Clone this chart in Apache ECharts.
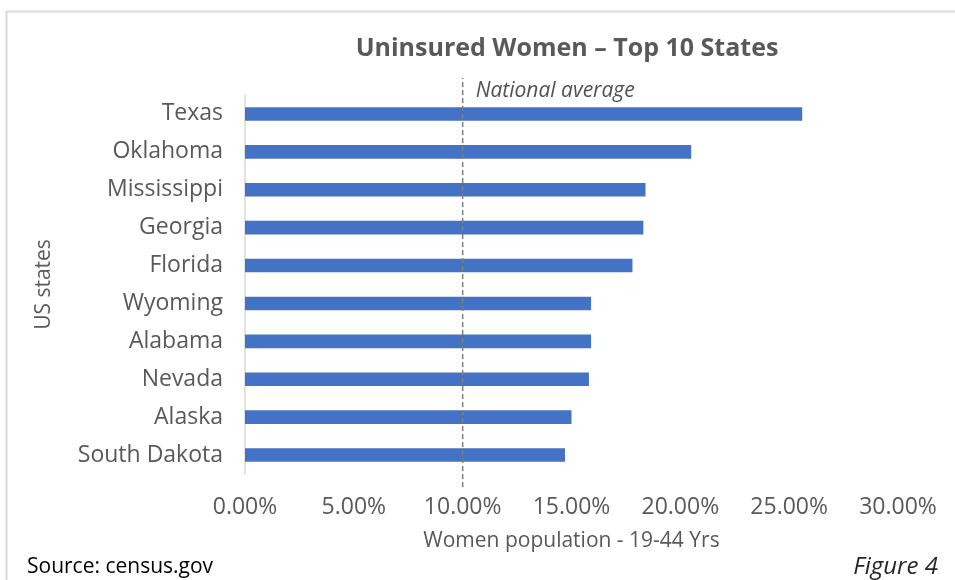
<!DOCTYPE html>
<html>
<head>
<meta charset="utf-8">
<script src="https://cdn.jsdelivr.net/npm/echarts@6/dist/echarts.min.js"></script>
<style>
  html, body { margin: 0; padding: 0; background: #ffffff; }
  #chart { width: 955px; height: 580px; }
</style>
</head>
<body>
<div id="chart"></div>
<script>
// Uninsured women (19-44 yrs), share of population, top 10 states
const states = ['Texas', 'Oklahoma', 'Mississippi', 'Georgia', 'Florida',
                'Wyoming', 'Alabama', 'Nevada', 'Alaska', 'South Dakota'];
const uninsuredPct = [25.6, 20.5, 18.4, 18.3, 17.8, 15.9, 15.9, 15.8, 15.0, 14.7];
const nationalAverage = 10;
const xTicks = { min: 0, max: 30, interval: 5 };

const FONT = '"Open Sans"';
const GREY = '#595959';

const chart = echarts.init(document.getElementById('chart'), null, { renderer: 'canvas' });

chart.setOption({
  animation: false,
  backgroundColor: '#ffffff',
  title: {
    text: 'Uninsured Women \u2013 Top 10 States',
    left: 562, top: 31, textAlign: 'center',
    textStyle: { fontFamily: FONT, fontSize: 25, fontWeight: 'bold', color: GREY }
  },
  graphic: [
    { type: 'rect', left: 4, top: 9, shape: { width: 1000, height: 700 },
      style: { fill: 'none', stroke: '#d9d9d9', lineWidth: 2 }, silent: true },
    { type: 'text', left: 27, top: 557,
      style: { text: 'Source: census.gov', font: '21px ' + FONT, fill: '#000000' } },
    { type: 'text', right: 17, top: 555,
      style: { text: 'Figure 4', font: 'italic 24px ' + FONT, fill: '#262626' } }
  ],
  grid: [
    { left: 245, right: 57, top: 95, bottom: 106 },
    { left: 245, right: 57, top: 78, bottom: 93 }
  ],
  xAxis: [
    {
      type: 'value', gridIndex: 0,
      min: xTicks.min, max: xTicks.max, interval: xTicks.interval,
      axisLine: { show: false }, axisTick: { show: false }, splitLine: { show: false },
      axisLabel: {
        margin: 22, fontFamily: FONT, fontSize: 23, color: GREY,
        formatter: v => v.toFixed(2) + '%'
      },
      name: 'Women population - 19-44 Yrs', nameLocation: 'middle', nameGap: 57,
      nameTextStyle: { fontFamily: FONT, fontSize: 21, color: GREY }
    },
    {
      type: 'value', gridIndex: 1, show: false,
      min: xTicks.min, max: xTicks.max
    }
  ],
  yAxis: [
    {
      type: 'category', gridIndex: 0, data: states, inverse: true,
      axisLine: { show: true, lineStyle: { color: '#d9d9d9', width: 1.5 } },
      axisTick: { show: false },
      axisLabel: { margin: 22, fontFamily: FONT, fontSize: 23, color: GREY, padding: [6, 0, 0, 0] },
      name: 'US states', nameLocation: 'middle', nameGap: 190, nameRotate: 90,
      nameTextStyle: { fontFamily: FONT, fontSize: 21, color: GREY }
    },
    { type: 'value', gridIndex: 1, show: false, min: 0, max: 1 }
  ],
  series: [
    {
      type: 'bar', xAxisIndex: 0, yAxisIndex: 0,
      data: uninsuredPct, barWidth: '36%',
      itemStyle: { color: '#4472c4' }
    },
    {
      type: 'line', xAxisIndex: 1, yAxisIndex: 1,
      data: [[nationalAverage, 0], [nationalAverage, 1]],
      symbol: 'none', z: 5,
      lineStyle: { color: '#7f7f7f', width: 1.5, type: [5, 3] }
    },
    {
      type: 'scatter', xAxisIndex: 1, yAxisIndex: 1,
      data: [[nationalAverage, 1]], symbolSize: 0,
      label: {
        show: true, position: 'right', distance: 13, offset: [0, 13],
        formatter: 'National average',
        fontFamily: FONT, fontSize: 21, fontStyle: 'italic', color: '#262626'
      }
    }
  ]
});
</script>
</body>
</html>
